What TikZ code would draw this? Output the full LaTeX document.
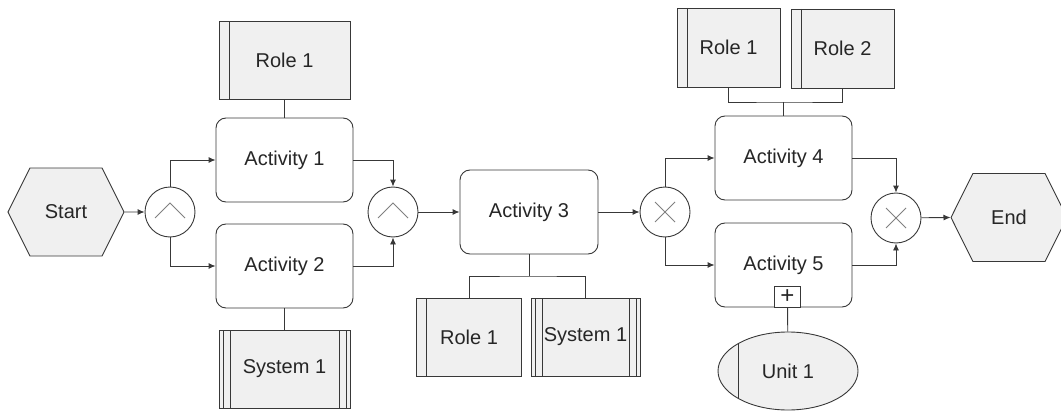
\documentclass[tikz,border=0pt]{standalone}
\usepackage{fontspec}
\setmainfont{Liberation Sans}
\usetikzlibrary{arrows.meta,shapes.geometric,shapes.symbols}
\definecolor{G1}{RGB}{240,240,240}
\definecolor{L1}{RGB}{56,56,56}

\begin{document}
\begin{tikzpicture}[x=1pt, y=-1pt, font=\fontsize{20}{24}\selectfont, text=black!85,
    activity/.style={draw=L1, line width=0.9pt, fill=white, rounded corners=10pt, minimum width=137pt, minimum height=84pt},
    role/.style={draw=L1, line width=0.9pt, fill=G1, minimum height=78pt, path picture={
        \draw[L1, line width=0.9pt] ([xshift=10pt]path picture bounding box.north west) -- ([xshift=10pt]path picture bounding box.south west);}},
    system/.style={draw=L1, line width=0.9pt, fill=G1, minimum height=78pt, path picture={
        \foreach \d in {4pt,11pt} {
        \draw[L1, line width=0.9pt] ([xshift=\d]path picture bounding box.north west) -- ([xshift=\d]path picture bounding box.south west);
        \draw[L1, line width=0.9pt] ([xshift=-\d]path picture bounding box.north east) -- ([xshift=-\d]path picture bounding box.south east);}}},
    gate/.style={circle, draw=L1, line width=0.9pt, fill=white, minimum size=50pt, inner sep=0pt},
    andgate/.style={gate, path picture={
        \draw[gray, line width=0.8pt] ([shift={(-15pt,-6pt)}]path picture bounding box.center) -- ([shift={(0pt,9pt)}]path picture bounding box.center) -- ([shift={(15pt,-6pt)}]path picture bounding box.center);}},
    xorgate/.style={gate, path picture={
        \draw[gray, line width=0.8pt] ([shift={(-10pt,-10pt)}]path picture bounding box.center) -- ([shift={(10pt,10pt)}]path picture bounding box.center);
        \draw[gray, line width=0.8pt] ([shift={(-10pt,10pt)}]path picture bounding box.center) -- ([shift={(10pt,-10pt)}]path picture bounding box.center);}},
    event/.style={signal, signal to=east and west, signal pointer angle=127, draw=L1, line width=0.9pt, fill=G1, minimum width=116pt, minimum height=88pt},
    unit/.style={ellipse, draw=L1, line width=0.9pt, fill=G1, minimum width=140pt, minimum height=78pt, path picture={
        \draw[L1, line width=0.9pt] ([xshift=20pt]path picture bounding box.north west) -- ([xshift=20pt]path picture bounding box.south west);}},
    plusbox/.style={draw=L1, line width=0.9pt, fill=white, minimum width=26pt, minimum height=21pt, inner sep=0pt, font=\fontsize{24}{24}\selectfont},
    flow/.style={draw=L1, line width=0.9pt, -{Latex[length=7pt,width=6pt]}},
    link/.style={draw=L1, line width=0.9pt}]
  \useasboundingbox (0,0) rectangle (1061,412);
  \node[event] (start) at (66,212) {Start};
  \node[andgate] (g1) at (170,212) {};
  \node[activity] (act1) at (284.5,160) {Activity 1};
  \node[activity] (act2) at (284.5,266) {Activity 2};
  \node[role, minimum width=131pt] (role1a) at (284.5,60.5) {Role 1};
  \node[system, minimum width=131pt] (sys1a) at (284.5,369) {System 1};
  \node[andgate] (g2) at (393,212) {};
  \node[activity, minimum width=138pt] (act3) at (529,212) {Activity 3};
  \node[role, minimum width=105pt] (role1b) at (469,337) {Role 1};
  \node[system, minimum width=109pt] (sys1b) at (585.5,337) {System 1};
  \node[xorgate] (g3) at (665,212) {};
  \node[activity] (act4) at (783.5,158) {Activity 4};
  \node[activity] (act5) at (783.5,265) {Activity 5};
  \node[role, minimum width=103pt, minimum height=79pt] (role1c) at (728.5,47.5) {Role 1};
  \node[role, minimum width=103pt, minimum height=79pt] (role2c) at (842.5,48.5) {Role 2};
  \node[plusbox, anchor=south] (plus) at ([xshift=4pt]act5.south) {+};
  \node[unit] (unit1) at (788,371) {Unit 1};
  \node[xorgate] (g4) at (896,218) {};
  \node[event] (end) at (1009,217.5) {End};
  \coordinate (fork3) at (529,276);
  \coordinate (fork4) at (783.5,102);
  \draw[flow] (start) -- (g1);
  \draw[flow] (g1) |- (act1);
  \draw[flow] (g1) |- (act2);
  \draw[flow] (act1) -| (g2);
  \draw[flow] (act2) -| (g2);
  \draw[flow] (g2) -- (act3);
  \draw[flow] (act3) -- (g3);
  \draw[flow] (g3) |- (act4);
  \draw[flow] (g3) |- (act5);
  \draw[flow] (act4) -| (g4);
  \draw[flow] (act5) -| (g4);
  \draw[flow] (g4) -- (end.west);
  \draw[link] (role1a) -- (act1);
  \draw[link] (act2) -- (sys1a);
  \draw[link] (act3) -- (fork3);
  \draw[link] (role1b) |- (fork3) -| (sys1b);
  \draw[link] (role1c) |- (fork4) -| (role2c);
  \draw[link] (fork4) -- (act4);
  \draw[link] (plus) -- (unit1);
\end{tikzpicture}
\end{document}
